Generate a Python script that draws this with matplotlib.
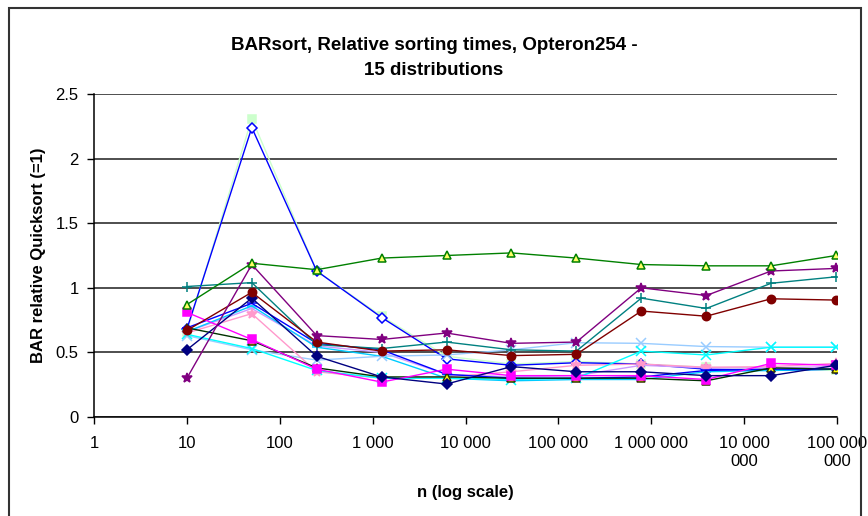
import numpy as np
import matplotlib
matplotlib.use("Agg")
import matplotlib.pyplot as plt
from matplotlib.patches import Rectangle

plt.rcParams['font.family'] = ['Liberation Sans', 'DejaVu Sans']

# problem sizes (n), one point per size
n_values = [10, 50, 250, 1250, 6250, 31250, 156250, 781250, 3906250, 19531250, 97656250]

# relative sorting times, one list per distribution
s_navy = [0.52, 0.92, 0.47, 0.31, 0.255, 0.39, 0.35, 0.35, 0.32, 0.32, 0.40]
s_magenta = [0.81, 0.60, 0.37, 0.27, 0.37, 0.32, 0.32, 0.32, 0.29, 0.415, 0.40]
s_dark = [0.69, 0.59, 0.38, 0.31, 0.31, 0.30, 0.30, 0.30, 0.28, 0.38, 0.37]
s_cyan = [0.64, 0.53, 0.36, 0.30, 0.30, 0.29, 0.30, 0.51, 0.48, 0.54, 0.54]
s_purple = [0.30, 1.18, 0.63, 0.60, 0.65, 0.57, 0.58, 1.00, 0.94, 1.13, 1.15]
s_darkred = [0.67, 0.965, 0.58, 0.51, 0.52, 0.475, 0.485, 0.82, 0.78, 0.915, 0.905]
s_teal = [1.01, 1.04, 0.56, 0.53, 0.58, 0.52, 0.51, 0.92, 0.84, 1.035, 1.085]
s_blue = [0.69, 0.88, 0.57, 0.52, 0.33, 0.30, 0.30, 0.31, 0.36, 0.37, 0.37]
s_peak = [0.68, 2.24, 1.13, 0.77, 0.45, 0.40, 0.42, 0.41, 0.37, 0.36, 0.37]
s_lightgreen = [0.66, 2.31, 1.13, 0.78, 0.47, 0.41, 0.43, 0.41, 0.385, 0.37, 0.36]
s_skyblue = [0.66, 0.86, 0.54, 0.47, 0.30, 0.28, 0.29, 0.29, 0.35, 0.36, 0.37]
s_lightblue = [0.63, 0.52, 0.44, 0.47, 0.48, 0.52, 0.575, 0.57, 0.545, 0.54, 0.54]
s_pink = [0.65, 0.80, 0.35, 0.30, 0.31, 0.35, 0.40, 0.41, 0.385, 0.39, 0.415]
s_lavender = [0.66, 0.84, 0.55, 0.50, 0.33, 0.31, 0.32, 0.40, 0.38, 0.38, 0.39]
s_green = [0.87, 1.19, 1.14, 1.23, 1.25, 1.27, 1.23, 1.18, 1.17, 1.17, 1.25]

x_ticks = [1, 10, 100, 1e3, 1e4, 1e5, 1e6, 1e7, 1e8]
x_labels = ["1", "10", "100", "1 000", "10 000", "100 000", "1 000 000",
            "10 000\n000", "100 000\n000"]

# (data, line colour, marker, marker face, marker edge)
series = [
    (s_lightgreen, "#CCFFCC", "s", "#CCFFCC", "#CCFFCC"),
    (s_peak, "#0000FF", "D", "white", "#0000FF"),
    (s_lavender, "#CC99FF", "+", "#CC99FF", "#CC99FF"),
    (s_skyblue, "#00CCFF", "_", "#00CCFF", "#00CCFF"),
    (s_lightblue, "#99CCFF", "x", "#99CCFF", "#99CCFF"),
    (s_pink, "#FF99CC", "*", "#FF99CC", "#FF99CC"),
    (s_cyan, "#00FFFF", "x", "#00FFFF", "#00FFFF"),
    (s_blue, "#0000FF", "_", "#0000FF", "#0000FF"),
    (s_dark, "#003300", "^", "#FFFF00", "#333300"),
    (s_magenta, "#FF00FF", "s", "#FF00FF", "#FF00FF"),
    (s_navy, "#000080", "D", "#000080", "#000080"),
    (s_teal, "#008080", "+", "#008080", "#008080"),
    (s_darkred, "#800000", "o", "#800000", "#800000"),
    (s_purple, "#800080", "*", "#800080", "#800080"),
    (s_green, "#008000", "^", "#FFFF66", "#008000"),
]

fig = plt.figure(figsize=(8.68, 5.16), dpi=100)
ax = fig.add_axes([0.1083, 0.1919, 0.8560, 0.6259])

for data, col, mk, mfc, mec in series:
    ms = 6 if mk in ("s", "o", "^") else 5
    if mk in ("x", "+", "*", "_"):
        ms = 7
    ax.plot(n_values, data, color=col, lw=1.0, marker=mk, ms=ms,
            mfc=mfc, mec=mec, mew=1.1)

ax.set_xscale("log")
ax.set_xlim(1, 1e8)
ax.set_ylim(0, 2.5)
ax.set_xticks(x_ticks)
ax.set_xticklabels(x_labels)
ax.minorticks_off()
ax.set_yticks([0, 0.5, 1, 1.5, 2, 2.5])
ax.set_yticklabels(["0", "0.5", "1", "1.5", "2", "2.5"])
ax.tick_params(axis="both", direction="out", length=5, width=1, labelsize=12,
               colors="black", pad=6)
ax.tick_params(axis="x", pad=9)

ax.yaxis.grid(True, color="#404040", lw=1.3)
ax.set_axisbelow(True)
for side in ("top", "right"):
    ax.spines[side].set_visible(False)
for side in ("left", "bottom"):
    ax.spines[side].set_linewidth(1.1)

ax.set_xlabel("n (log scale)", fontsize=12, fontweight="bold", labelpad=12)
ax.set_ylabel("BAR relative Quicksort (=1)", fontsize=12, fontweight="bold", labelpad=7)
fig.text(0.5, 0.888, "BARsort, Relative sorting times, Opteron254 -\n15 distributions",
         ha="center", va="center", fontsize=13.5, fontweight="bold", linespacing=1.65)

# chart area border
fig.patches.append(Rectangle((9 / 868, -0.02), 852 / 868, 1 - 8 / 516 + 0.02,
                             transform=fig.transFigure, fill=False,
                             edgecolor="#333333", lw=1.5))

fig.savefig("out.png", dpi=100)
